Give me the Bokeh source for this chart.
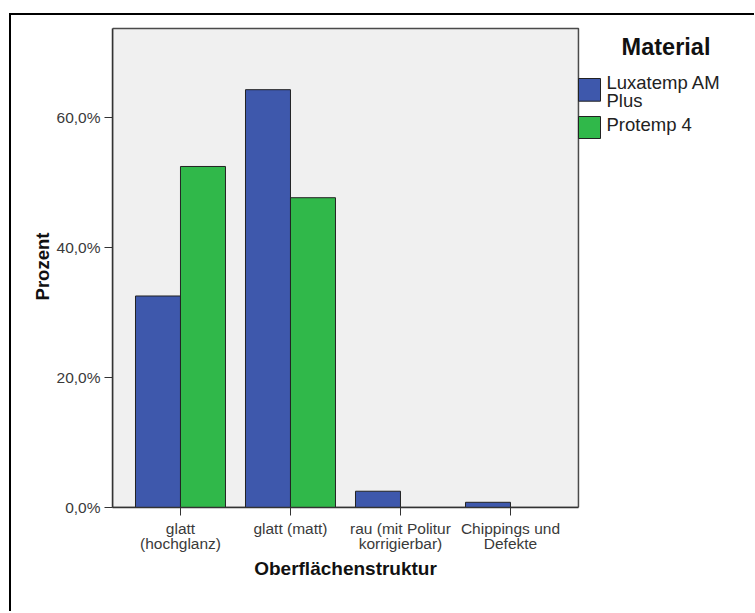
from bokeh.plotting import figure
from bokeh.models import Range1d, FixedTicker, Label, BoxAnnotation, ColumnDataSource, Title
from bokeh.embed import file_html
from bokeh.resources import INLINE

# ---- data ----
categories = ["glatt\n(hochglanz)", "glatt (matt)", "rau (mit Politur\nkorrigierbar)", "Chippings und\nDefekte"]
luxatemp = [32.5, 64.2, 2.5, 0.8]
protemp = [52.4, 47.6, 0.0, 0.0]
series_names = ["Luxatemp AM Plus", "Protemp 4"]
legend_title = "Material"
x_title = "Oberflächenstruktur"
y_title = "Prozent"
y_ticks = [0, 20, 40, 60]
y_tick_labels = ["0,0%", "20,0%", "40,0%", "60,0%"]

BLUE = "#3e58ac"
GREEN = "#30b84a"
FONT = "Liberation Sans"

# layout (page pixels): frame spans x 112..753, y 25..507; plot area x 112..578, y 28..507
PX_PER_X = 110.0
X0 = -0.618
XP = 3.618                      # right edge of the grey plot area
FW = 641
X1 = X0 + FW / PX_PER_X
YP = 73.6                       # top of the grey plot area
PX_PER_Y = 479 / YP
FH = 482
Y0 = 0
Y1 = FH / PX_PER_Y
BL, BT, BR, BB = 101, 10, 1, 104
FRAME_LEFT, FRAME_BOTTOM = 112, 507

p = figure(frame_width=FW, frame_height=FH,
           x_range=Range1d(X0, X1), y_range=Range1d(Y0, Y1),
           output_backend="svg", toolbar_location=None,
           min_border_left=BL, min_border_top=BT, min_border_right=BR, min_border_bottom=BB)

p.styles = {"border-left": "2px solid black", "border-top": "2px solid black",
            "margin-left": "9px", "margin-top": "13px"}

p.background_fill_color = "white"
p.border_fill_color = "white"
p.outline_line_color = None
p.xgrid.visible = False
p.ygrid.visible = False

# grey plot area
p.quad(left=[X0], right=[XP], bottom=[0], top=[YP], fill_color="#f0f0f0",
       line_color="#4a4a4a", line_width=1.5, level="underlay")

idx = list(range(len(categories)))
bw = 0.409
src_l = ColumnDataSource(dict(x=[i - bw / 2 for i in idx], top=luxatemp))
src_p = ColumnDataSource(dict(x=[i + bw / 2 for i in idx], top=protemp))
p.vbar(x="x", top="top", bottom=0, width=bw, source=src_l, fill_color=BLUE,
       line_color="#222222", line_width=1)
p.vbar(x="x", top="top", bottom=0, width=bw, source=src_p, fill_color=GREEN,
       line_color="#222222", line_width=1)

# axes
xa = p.xaxis[0]
xa.ticker = FixedTicker(ticks=idx)
xa.major_label_overrides = {i: c for i, c in zip(idx, categories)}
xa.bounds = (X0, XP)
ya = p.yaxis[0]
ya.ticker = FixedTicker(ticks=y_ticks)
ya.major_label_overrides = {t: l for t, l in zip(y_ticks, y_tick_labels)}
ya.bounds = (0, YP)
for ax in (xa, ya):
    ax.minor_tick_line_color = None
    ax.major_tick_in = 0
    ax.major_tick_out = 8
    ax.major_tick_line_color = "#333333"
    ax.axis_line_color = "#333333"
    ax.axis_line_width = 1.5
    ax.major_label_text_font = FONT
    ax.major_label_text_color = "#3a3a3a"
    ax.axis_label_text_font = FONT
    ax.axis_label_text_font_style = "bold"
    ax.axis_label_text_font_size = "18.5px"
    ax.axis_label_text_color = "#111111"
xa.major_label_text_font_size = "15.5px"
ya.major_label_text_font_size = "15.5px"
ya.axis_label = y_title
xa.major_label_standoff = 4
ya.major_label_standoff = 4
xa.major_label_text_line_height = 0.92
ya.axis_label_standoff = 1

# x-axis title centred under the grey plot area (not under the whole frame)
p.add_layout(Title(text=x_title, align="left", offset=141.7, standoff=0,
                   text_font=FONT, text_font_style="bold", text_font_size="19px",
                   text_color="#111111"), "below")

# ---- legend (manual, positions given in page pixels) ----
def dx(px):
    return X0 + (px - FRAME_LEFT) / PX_PER_X

def dy(py):
    return Y0 + (FRAME_BOTTOM - py) / PX_PER_Y

p.add_layout(Label(x=dx(665.5), y=dy(46.5), text=legend_title, text_align="center",
                   text_baseline="middle", text_font=FONT, text_font_style="bold",
                   text_font_size="23.5px", text_color="#111111"))
for (top, bot), col in zip([(78, 100.7), (116, 138)], [BLUE, GREEN]):
    p.add_layout(BoxAnnotation(left=dx(578), right=dx(600), top=dy(top), bottom=dy(bot),
                               fill_color=col, fill_alpha=1, line_color="#222222",
                               line_width=1, line_alpha=1))
legend_lines = [("Luxatemp AM", 81.5), ("Plus", 99.5), ("Protemp 4", 124)]
for txt, cy in legend_lines:
    p.add_layout(Label(x=dx(606), y=dy(cy), text=txt, text_align="left",
                       text_baseline="middle", text_font=FONT,
                       text_font_size="18.5px", text_color="#222222"))

open("out.html", "w").write(file_html(p, INLINE))
